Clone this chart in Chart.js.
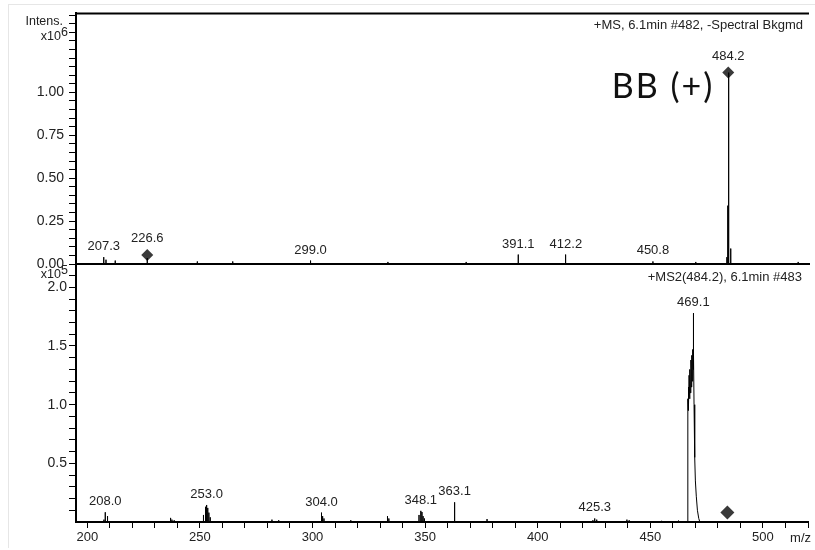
<!DOCTYPE html>
<html>
<head>
<meta charset="utf-8">
<script src="https://cdn.jsdelivr.net/npm/chart.js@4.4.1/dist/chart.umd.min.js"></script>
<style>
  html, body { margin: 0; padding: 0; background: #fff; }
  #wrap { position: relative; width: 815px; height: 550px; overflow: hidden; }
  #wrap canvas { position: absolute; left: 0; top: 0; }
  #frame { position: absolute; left: 8px; top: 4px; width: 820px; height: 543px;
           border-left: 1px solid #e6e6e6; border-top: 1px solid #e6e6e6; }
</style>
</head>
<body>
<div id="wrap">
  <div id="frame"></div>
  <canvas id="ms1" width="815" height="550"></canvas>
  <canvas id="ms2" width="815" height="550"></canvas>
</div>
<script>
// MS full scan (intensity x10^6)
const ms1Mz  = [207.3, 208.3, 212.4, 226.6, 248.8, 264.5, 299.0, 333.3, 368.0, 391.1, 411.9, 412.2, 450.8, 469.8, 483.6, 484.0, 484.2, 484.5, 485.3, 515.2];
const ms1Int = [0.04, 0.025, 0.02, 0.035, 0.015, 0.015, 0.02, 0.012, 0.012, 0.055, 0.04, 0.055, 0.015, 0.012, 0.04, 0.34, 1.115, 0.2, 0.09, 0.012];
const ms1Labels = [207.3, 226.6, 299.0, 391.1, 412.2, 450.8, 484.2];
const ms1Precursors = [{ x: 226.6, y: 0.052 }, { x: 484.2, y: 1.115 }];

// MS2 of 484.2 (intensity x10^5)
const ms2Mz  = [207.4, 208.0, 209.0, 237.0, 237.6, 238.6, 251.6, 252.3, 252.7, 253.0, 253.5, 254.0, 254.6, 282.0, 285.0,
                304.0, 304.5, 305.1, 317.0, 333.3, 333.9, 347.3, 348.1, 348.6, 349.1, 349.7, 363.1, 377.5,
                424.5, 425.3, 426.2, 439.6, 440.6, 455.0, 462.5];
const ms2Int = [0.02, 0.083, 0.05, 0.035, 0.02, 0.015, 0.06, 0.1, 0.13, 0.145, 0.12, 0.08, 0.04, 0.02, 0.015,
                0.08, 0.05, 0.03, 0.015, 0.05, 0.03, 0.06, 0.095, 0.085, 0.05, 0.03, 0.168, 0.025,
                0.015, 0.03, 0.02, 0.02, 0.015, 0.01, 0.012];
// profile of the base peak 469.1
const basePeakMz  = [466.5, 466.6, 466.7, 466.8, 466.9, 467.0, 467.2, 467.4, 467.6, 467.8, 468.0, 468.2, 468.4, 468.6, 468.8,
                     469.0, 469.1, 469.2, 469.4, 469.6, 469.8, 470.0, 470.4, 470.9, 471.5, 472.0];
const basePeakInt = [0, 0.9, 1.05, 0.95, 1.15, 1.0, 1.25, 1.05, 1.3, 1.1, 1.38, 1.15, 1.42, 1.2, 1.47,
                     1.3, 1.78, 1.45, 1.0, 0.9, 0.55, 0.35, 0.22, 0.1, 0.03, 0];
const ms2Labels = [208.0, 253.0, 304.0, 348.1, 363.1, 425.3, 469.1];
const ms2Precursors = [{ x: 484.2, y: 0.08 }];

// axes
const mzMin = 195, mzMax = 520;
const mzTicks = [200, 210, 220, 230, 240, 250, 260, 270, 280, 290, 300, 310, 320, 330, 340, 350, 360, 370, 380, 390,
                 400, 410, 420, 430, 440, 450, 460, 470, 480, 490, 500, 510, 520];
const mzTickLabels = [200, 250, 300, 350, 400, 450, 500];
const ms1Max = 1.46, ms1TickStep = 0.05, ms1TickLabels = [0, 0.25, 0.5, 0.75, 1.0];
const ms2Max = 2.19, ms2TickStep = 0.1, ms2TickLabels = [0.5, 1.0, 1.5, 2.0];

const TXT = '#222';
const FONT = '"Liberation Sans", Arial, sans-serif';

function sticks(mz, inten) {
  const pts = [];
  mz.forEach((m, i) => { pts.push({ x: m, y: 0 }, { x: m, y: inten[i] }, { x: m, y: 0 }); });
  return pts;
}

function stepTicks(from, to, step) {
  const out = [];
  for (let i = Math.round(from / step); i * step <= to + 1e-9; i++) out.push(Math.round(i * step * 100) / 100);
  return out;
}

function annotator(cfg) {
  return {
    id: 'annot',
    afterDatasetsDraw(chart) {
      const { ctx, chartArea: a, scales: { x, y } } = chart;
      ctx.save();
      ctx.fillStyle = TXT;
      // peak labels, centred above each labelled peak
      ctx.font = '13px ' + FONT;
      ctx.textAlign = 'center';
      ctx.textBaseline = 'alphabetic';
      cfg.labels.forEach(m => {
        let h = 0;
        cfg.peaks.forEach(p => { if (Math.abs(p.x - m) < 0.4) h = Math.max(h, p.y); });
        let top = y.getPixelForValue(h);
        cfg.marks.forEach(d => {
          if (Math.abs(d.x - m) < 0.4) top = Math.min(top, y.getPixelForValue(d.y) - cfg.markRadius);
        });
        ctx.fillText(m.toFixed(1), x.getPixelForValue(m), top - 7);
      });
      // scan title
      ctx.font = '13px ' + FONT;
      ctx.textAlign = 'right';
      ctx.fillText(cfg.title, a.right - 6, a.top + 16);
      // intensity exponent
      ctx.font = '12.5px ' + FONT;
      if (cfg.intens) {
        ctx.fillText('Intens.', a.left - 13, a.top + 12);
      }
      ctx.fillText('x10', a.left - 15, a.top + cfg.expY);
      ctx.textAlign = 'left';
      ctx.fillText(cfg.exp, a.left - 15, a.top + cfg.expY - 4);
      if (cfg.frameTop) {
        ctx.strokeStyle = '#000';
        ctx.lineWidth = 2;
        ctx.beginPath();
        ctx.moveTo(a.left, a.top);
        ctx.lineTo(a.right, a.top);
        ctx.stroke();
      }
      if (cfg.note) {
        const px = x.getPixelForValue(cfg.note.at.x);
        const py = y.getPixelForValue(cfg.note.at.y);
        ctx.font = '34px Lato, "Open Sans", sans-serif';
        ctx.letterSpacing = '2px';
        ctx.fillStyle = '#111';
        ctx.textAlign = 'right';
        ctx.fillText(cfg.note.text, px - 14, py + 25);
        ctx.letterSpacing = '0px';
      }
      if (cfg.unit) {
        ctx.font = '13px ' + FONT;
        ctx.textAlign = 'right';
        ctx.fillStyle = TXT;
        ctx.fillText(cfg.unit, a.right + 3, a.bottom + 20);
      }
      ctx.restore();
    }
  };
}

function spectrum(id, o) {
  const allPeaks = o.datasets.reduce((acc, d) => acc.concat(d.data), []);
  return new Chart(document.getElementById(id), {
    type: 'line',
    data: {
      datasets: o.datasets.map(d => ({
        data: d.data,
        borderColor: '#000',
        borderWidth: 1,
        pointRadius: 0,
        fill: false,
        tension: 0
      })).concat([{
        data: o.marks,
        showLine: false,
        pointStyle: 'rectRot',
        pointRadius: o.markRadius,
        pointBackgroundColor: '#3a3a3a',
        pointBorderColor: '#3a3a3a',
        pointBorderWidth: 0,
        clip: false
      }])
    },
    options: {
      responsive: false,
      animation: false,
      devicePixelRatio: 1,
      events: [],
      layout: { padding: o.padding },
      plugins: { legend: { display: false }, tooltip: { enabled: false } },
      scales: {
        x: {
          type: 'linear',
          min: mzMin,
          max: mzMax,
          afterBuildTicks: s => { s.ticks = mzTicks.map(v => ({ value: v })); },
          afterFit: s => { s.height = o.xHeight; },
          ticks: {
            display: o.xLabels,
            autoSkip: false,
            maxRotation: 0,
            padding: 2,
            color: TXT,
            font: { family: 'Liberation Sans', size: 13 },
            callback: v => mzTickLabels.includes(v) ? String(v) : ''
          },
          grid: { display: o.xLabels, drawOnChartArea: false, drawTicks: true, tickLength: 6, color: '#000' },
          border: { display: true, color: '#000', width: 2 }
        },
        y: {
          min: 0,
          max: o.yMax,
          afterBuildTicks: s => { s.ticks = o.yTicks.map(v => ({ value: v })); },
          afterFit: s => { s.width = 70; },
          ticks: {
            autoSkip: false,
            padding: o.yPad,
            color: TXT,
            font: { family: 'Liberation Sans', size: 14 },
            callback: v => o.yLabels.includes(v) ? v.toFixed(o.yDigits) : ''
          },
          grid: { drawOnChartArea: false, drawTicks: true, tickLength: 7, color: '#000' },
          border: { display: true, color: '#000', width: 2 }
        }
      }
    },
    plugins: [annotator({
      labels: o.labels, peaks: allPeaks, marks: o.marks, markRadius: o.markRadius,
      title: o.title, intens: o.intens, exp: o.exp, expY: o.expY,
      frameTop: o.frameTop, note: o.note, unit: o.unit
    })]
  });
}

spectrum('ms1', {
  datasets: [{ data: sticks(ms1Mz, ms1Int) }],
  marks: ms1Precursors,
  markRadius: 6,
  labels: ms1Labels,
  padding: { left: 6, top: 10, right: 5, bottom: 286 },
  xHeight: 0,
  xLabels: false,
  yMax: ms1Max,
  yTicks: stepTicks(0, 1.45, ms1TickStep),
  yLabels: ms1TickLabels,
  yDigits: 2,
  yPad: 5,
  title: '+MS, 6.1min #482, -Spectral Bkgmd',
  intens: true,
  exp: '6',
  expY: 27,
  frameTop: true,
  note: { text: 'BB (+)', at: ms1Precursors[1] }
});

spectrum('ms2', {
  datasets: [{ data: sticks(ms2Mz, ms2Int) }, { data: basePeakMz.map((m, i) => ({ x: m, y: basePeakInt[i] })) }],
  marks: ms2Precursors,
  markRadius: 7,
  labels: ms2Labels,
  padding: { left: 6, top: 265, right: 5, bottom: 0 },
  xHeight: 28,
  xLabels: true,
  yMax: ms2Max,
  yTicks: stepTicks(0.1, 2.1, ms2TickStep),
  yLabels: ms2TickLabels,
  yDigits: 1,
  yPad: 2,
  title: '+MS2(484.2), 6.1min #483',
  intens: false,
  exp: '5',
  expY: 13,
  frameTop: false,
  unit: 'm/z'
});
</script>
</body>
</html>
